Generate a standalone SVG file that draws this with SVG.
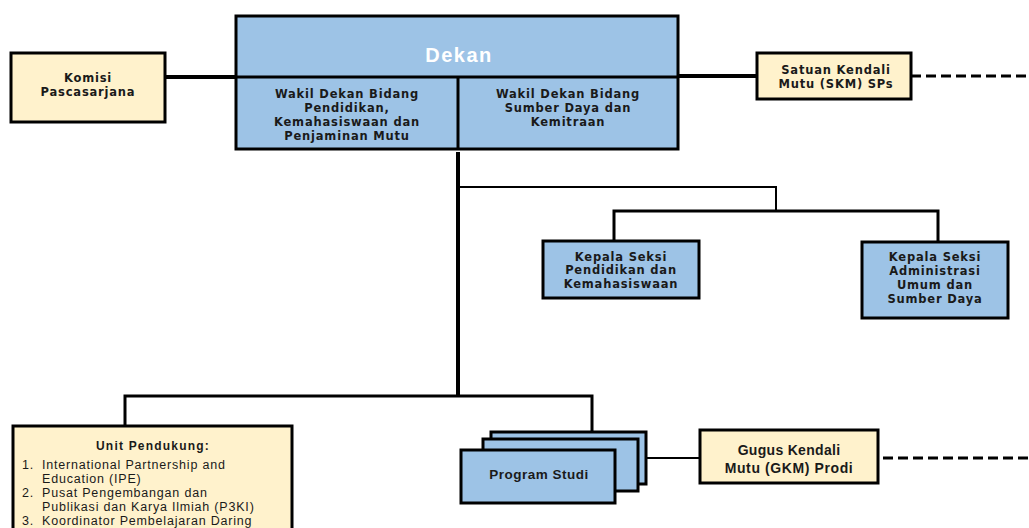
<svg xmlns="http://www.w3.org/2000/svg" width="1029" height="528" viewBox="0 0 1029 528">
<style>
.blue{fill:#9DC3E6;stroke:#000;stroke-width:3}
.yel{fill:#FFF2CC;stroke:#000;stroke-width:3}
.t{font-family:"DejaVu Sans",Verdana,sans-serif;font-weight:bold;font-size:11.5px;letter-spacing:0.8px;fill:#1a1a1a;text-anchor:middle;dominant-baseline:central}
.c{font-family:"Liberation Sans",Arial,sans-serif;font-weight:bold;fill:#1a1a1a;text-anchor:middle;dominant-baseline:central}
.l{font-family:"Liberation Sans",Arial,sans-serif;font-size:12.5px;letter-spacing:0.8px;fill:#1a1a1a;dominant-baseline:central}
.thick{stroke:#000;stroke-width:4;fill:none}
.mid{stroke:#000;stroke-width:3;fill:none}
.thin{stroke:#000;stroke-width:2;fill:none}
.dash{stroke:#000;stroke-width:3;fill:none;stroke-dasharray:10 5}
</style>
<g id="connectors">
<line class="thick" x1="165" y1="77" x2="236" y2="77"/>
<line class="thick" x1="678" y1="76" x2="756" y2="76"/>
<line class="dash" x1="911" y1="76" x2="1029" y2="76"/>
<line class="thick" x1="458" y1="152" x2="458" y2="396"/>
<polyline class="thin" points="458,187 776,187 776,211"/>
<polyline class="mid" points="614,241 614,211 938,211 938,241"/>
<polyline class="mid" points="125,426 125,396 592,396 592,432"/>
<line class="thin" x1="646" y1="458" x2="700" y2="458"/>
<line class="dash" x1="883" y1="458" x2="1029" y2="458"/>
</g>
<g id="komisi">
<rect class="yel" x="11" y="53" width="154" height="69"/>
<text class="t" x="88" y="78">Komisi</text>
<text class="t" x="88" y="92">Pascasarjana</text>
</g>
<g id="dekan">
<rect class="blue" x="236" y="16" width="442" height="133"/>
<line class="mid" x1="236" y1="77" x2="678" y2="77"/>
<line class="mid" x1="458" y1="77" x2="458" y2="149"/>
<text class="c" x="459" y="55" font-size="20" style="fill:#fff" letter-spacing="1.5">Dekan</text>
</g>
<g id="wakil1">
<text class="t" x="347" y="94">Wakil Dekan Bidang</text>
<text class="t" x="347" y="108">Pendidikan,</text>
<text class="t" x="347" y="122">Kemahasiswaan dan</text>
<text class="t" x="347" y="136">Penjaminan Mutu</text>
</g>
<g id="wakil2">
<text class="t" x="568" y="94">Wakil Dekan Bidang</text>
<text class="t" x="568" y="108">Sumber Daya dan</text>
<text class="t" x="568" y="122">Kemitraan</text>
</g>
<g id="skm">
<rect class="yel" x="757" y="53" width="154" height="46"/>
<text class="t" x="836" y="70">Satuan Kendali</text>
<text class="t" x="836" y="84">Mutu (SKM) SPs</text>
</g>
<g id="kasi1">
<rect class="blue" x="543" y="241" width="156" height="57"/>
<text class="t" x="621" y="257">Kepala Seksi</text>
<text class="t" x="621" y="270">Pendidikan dan</text>
<text class="t" x="621" y="284">Kemahasiswaan</text>
</g>
<g id="kasi2">
<rect class="blue" x="862" y="242" width="146" height="76"/>
<text class="t" x="935" y="257">Kepala Seksi</text>
<text class="t" x="935" y="271">Administrasi</text>
<text class="t" x="935" y="285">Umum dan</text>
<text class="t" x="935" y="299">Sumber Daya</text>
</g>
<g id="unit">
<rect class="yel" x="13" y="426" width="279" height="110"/>
<text class="c" x="153" y="446" font-size="12" letter-spacing="1.2">Unit Pendukung:</text>
<text class="l" x="22" y="465">1.</text><text class="l" x="42" y="465">International Partnership and</text>
<text class="l" x="42" y="479">Education (IPE)</text>
<text class="l" x="22" y="493">2.</text><text class="l" x="42" y="493">Pusat Pengembangan  dan</text>
<text class="l" x="42" y="507">Publikasi dan Karya Ilmiah (P3KI)</text>
<text class="l" x="22" y="521">3.</text><text class="l" x="42" y="521">Koordinator Pembelajaran Daring</text>
</g>
<g id="prodi">
<rect class="blue" x="491" y="432" width="155" height="52"/>
<rect class="blue" x="483" y="439" width="155" height="52"/>
<rect class="blue" x="461" y="450" width="154" height="53"/>
<text class="c" x="539" y="474" font-size="13.5" letter-spacing="0.5">Program  Studi</text>
</g>
<g id="gkm">
<rect class="yel" x="700" y="430" width="178" height="53"/>
<text class="c" x="789" y="450" font-size="14" letter-spacing="0.3">Gugus Kendali</text>
<text class="c" x="789" y="468" font-size="14" letter-spacing="0.6">Mutu (GKM) Prodi</text>
</g>
</svg>
